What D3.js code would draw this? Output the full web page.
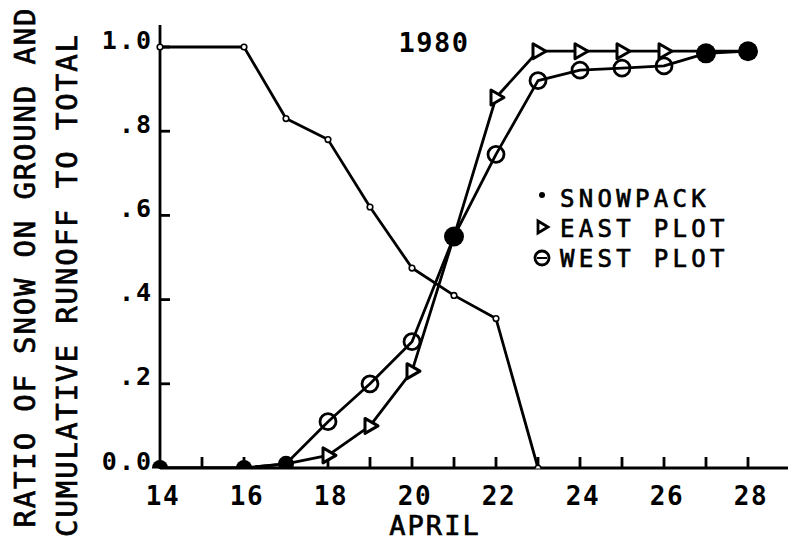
<!DOCTYPE html>
<html>
<head>
<meta charset="utf-8">
<script src="https://cdn.jsdelivr.net/npm/d3@7"></script>
<style>
  html, body { margin: 0; padding: 0; background: #fff; }
  svg { display: block; }
  text { font-family: "DejaVu Sans Mono", "Liberation Mono", monospace; fill: #000; }
  .heavy { stroke: #000; stroke-width: 0.7; }
</style>
</head>
<body>
<svg id="mainSvg" width="788" height="541"></svg>
<script>
// days in April
let snowDays = [14, 16, 17, 18, 19, 20, 21, 22, 23];
let snowpack = [1.0, 1.0, 0.83, 0.78, 0.62, 0.475, 0.41, 0.355, 0.0];

let plotDays = [14, 16, 17, 18, 19, 20, 21, 22, 23, 24, 25, 26, 27, 28];
let eastPlot = [0.0, 0.0, 0.01, 0.03, 0.10, 0.23, 0.55, 0.88, 0.99, 0.99, 0.99, 0.99, 0.99, 0.99];
let westPlot = [0.0, 0.0, 0.01, 0.11, 0.20, 0.30, 0.55, 0.745, 0.92, 0.945, 0.95, 0.955, 0.985, 0.99];

let xTickLabels = [14, 16, 18, 20, 22, 24, 26, 28];
let yTickValues = [0, 0.2, 0.4, 0.6, 0.8, 1.0];
let yTickLabels = ['0.0', '.2', '.4', '.6', '.8', '1.0'];
let legendItems = ['SNOWPACK', 'EAST PLOT', 'WEST PLOT'];

let svg = d3.select('#mainSvg');

let x = d3.scaleLinear().domain([14, 29]).range([160, 790]);
let y = d3.scaleLinear().domain([0, 1]).range([468, 47]);

svg.append('defs').append('clipPath').attr('id', 'plotClip')
  .append('rect')
  .attr('x', 150).attr('y', 0)
  .attr('width', 640).attr('height', y(0) + 0.5);

// axes
let axes = svg.append('g')
  .attr('stroke', '#000')
  .attr('stroke-width', 2.8)
  .attr('fill', 'none');
axes.append('line')
  .attr('x1', x(14)).attr('y1', y(0) + 1)
  .attr('x2', x(14)).attr('y2', 25);
axes.append('line')
  .attr('x1', x(14)).attr('y1', y(0))
  .attr('x2', 788).attr('y2', y(0));
axes.selectAll('.xt')
  .data(d3.range(15, 29))
  .join('line')
  .attr('class', 'xt')
  .attr('x1', d => x(d)).attr('x2', d => x(d))
  .attr('y1', y(0)).attr('y2', y(0) - 11);
axes.selectAll('.yt')
  .data(yTickValues.slice(1))
  .join('line')
  .attr('class', 'yt')
  .attr('x1', x(14)).attr('x2', x(14) + 10)
  .attr('y1', d => y(d)).attr('y2', d => y(d));

svg.selectAll('.xl')
  .data(xTickLabels)
  .join('text')
  .attr('class', 'xl')
  .attr('x', d => x(d) + 3)
  .attr('y', 505)
  .attr('text-anchor', 'middle')
  .attr('font-size', 26)
  .attr('font-weight', 'bold')
  .attr('letter-spacing', 1.5)
  .text(d => d);

svg.selectAll('.yl')
  .data(yTickValues)
  .join('text')
  .attr('class', 'yl')
  .attr('x', 153)
  .attr('y', d => y(d) + 1.5)
  .attr('text-anchor', 'end')
  .attr('font-size', 25)
  .attr('font-weight', 'bold')
  .attr('letter-spacing', 2)
  .text((d, i) => yTickLabels[i]);

svg.append('text')
  .attr('class', 'heavy')
  .attr('x', 435).attr('y', 535)
  .attr('text-anchor', 'middle')
  .attr('font-size', 27)
  .attr('letter-spacing', 2)
  .text('APRIL');

svg.append('text')
  .attr('x', 434).attr('y', 52)
  .attr('text-anchor', 'middle')
  .attr('font-size', 27)
  .attr('font-weight', 'bold')
  .attr('letter-spacing', 1.5)
  .text('1980');

let yTitle = ['RATIO OF SNOW ON GROUND AND', 'CUMULATIVE RUNOFF TO TOTAL'];
let yTitlePos = [[35, 268, 519], [77, 286, 502]];
svg.selectAll('.ytitle')
  .data(yTitle)
  .join('text')
  .attr('class', 'ytitle heavy')
  .attr('transform', (d, i) => `translate(${yTitlePos[i][0]},${yTitlePos[i][1]}) rotate(-90)`)
  .attr('text-anchor', 'middle')
  .attr('font-size', 29)
  .attr('textLength', (d, i) => yTitlePos[i][2])
  .attr('lengthAdjust', 'spacing')
  .text(d => d);

// data
let plot = svg.append('g').attr('clip-path', 'url(#plotClip)');
let line = d3.line().x(d => x(d[0])).y(d => y(d[1]));
let snowPts = snowDays.map((d, i) => [d, snowpack[i]]);
let eastPts = plotDays.map((d, i) => [d, eastPlot[i]]);
let westPts = plotDays.map((d, i) => [d, westPlot[i]]);

[snowPts, eastPts, westPts].forEach(pts => {
  plot.append('path')
    .attr('d', line(pts))
    .attr('fill', 'none')
    .attr('stroke', '#000')
    .attr('stroke-width', 2.8)
    .attr('stroke-linejoin', 'round');
});

plot.selectAll('.snow')
  .data(snowPts)
  .join('circle')
  .attr('class', 'snow')
  .attr('cx', d => x(d[0])).attr('cy', d => y(d[1]))
  .attr('r', 2.8)
  .attr('fill', '#fff')
  .attr('stroke', '#000')
  .attr('stroke-width', 1.6);

let same = (d, i) => Math.abs(eastPlot[i] - westPlot[i]) < 0.015;
let tri = 'M-5,-7.5 L8,0 L-5,7.5 Z';

plot.selectAll('.east')
  .data(eastPts.filter((d, i) => !same(d, i)))
  .join('path')
  .attr('class', 'east')
  .attr('d', tri)
  .attr('transform', d => `translate(${x(d[0])},${y(d[1])})`)
  .attr('fill', '#fff')
  .attr('stroke', '#000')
  .attr('stroke-width', 3)
  .attr('stroke-linejoin', 'round');

plot.selectAll('.west')
  .data(westPts.filter((d, i) => !same(d, i)))
  .join('circle')
  .attr('class', 'west')
  .attr('cx', d => x(d[0])).attr('cy', d => y(d[1]))
  .attr('r', 8)
  .attr('fill', 'none')
  .attr('stroke', '#000')
  .attr('stroke-width', 2.8);

plot.selectAll('.both')
  .data(westPts.filter((d, i) => same(d, i)))
  .join('circle')
  .attr('class', 'both')
  .attr('cx', d => x(d[0])).attr('cy', d => y(d[1]))
  .attr('r', d => d[1] > 0.5 ? 10 : 8)
  .attr('fill', '#000');

// legend
let legend = svg.append('g');
legend.selectAll('text')
  .data(legendItems)
  .join('text')
  .attr('class', 'heavy')
  .attr('x', 560)
  .attr('y', (d, i) => 207 + i * 30)
  .attr('font-size', 24)
  .attr('letter-spacing', 4.3)
  .text(d => d);
legend.append('circle')
  .attr('cx', 542).attr('cy', 195).attr('r', 3)
  .attr('fill', '#000');
legend.append('path')
  .attr('d', 'M-4,-6 L6,0 L-4,6 Z')
  .attr('transform', 'translate(542,227)')
  .attr('fill', '#fff')
  .attr('stroke', '#000')
  .attr('stroke-width', 2.8);
legend.append('circle')
  .attr('cx', 542).attr('cy', 258).attr('r', 7)
  .attr('fill', 'none')
  .attr('stroke', '#000')
  .attr('stroke-width', 2.8);
legend.append('line')
  .attr('x1', 537).attr('x2', 547)
  .attr('y1', 258).attr('y2', 258)
  .attr('stroke', '#000')
  .attr('stroke-width', 2);
</script>
</body>
</html>
